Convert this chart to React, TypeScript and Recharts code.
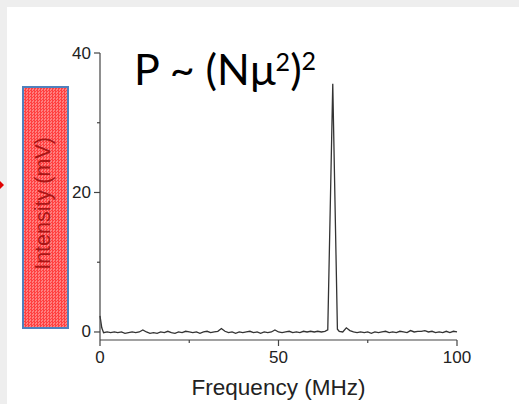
import { LineChart, Line, XAxis, YAxis } from 'recharts';

const freq = [
  0, 0.5, 1, 2, 3, 4, 5, 6, 7, 8, 9, 10, 11, 12, 13, 14, 15, 16, 17, 18, 19, 20,
  21, 22, 23, 24, 25, 26, 27, 28, 29, 30, 31, 32, 33, 34, 35, 36, 37, 38, 39, 40,
  41, 42, 43, 44, 45, 46, 47, 48, 49, 50, 51, 52, 53, 54, 55, 56, 57, 58, 59, 60,
  61, 62, 63, 63.8, 65.2, 66.5, 67, 68, 69, 70, 71, 72, 73, 74, 75, 76, 77, 78, 79, 80,
  81, 82, 83, 84, 85, 86, 87, 88, 89, 90, 91, 92, 93, 94, 95, 96, 97, 98, 99, 100,
];

const intensity = [
  2.3, 0.6, -0.1, 0.0, -0.1, 0.0, -0.1, 0.0, -0.2, -0.1, 0.0, -0.1,
  0.0, 0.3, 0.0, -0.2, -0.1, -0.2, 0.0, -0.1, 0.1, -0.1,
  -0.2, 0.0, -0.1, 0.1, 0.0, -0.1, 0.0, -0.2, 0.0, 0.1,
  -0.1, 0.0, 0.1, 0.5, 0.1, -0.1, 0.0, -0.2, 0.0, -0.1,
  0.0, 0.1, -0.1, 0.0, -0.2, 0.0, -0.1, 0.0, 0.3, 0.0,
  -0.1, 0.0, 0.1, -0.1, 0.0, -0.1, 0.1, 0.0, 0.1, 0.0,
  0.1, 0.0, 0.1, 0.3, 35.6, 0.4, 0.1, 0.0, 0.6, 0.2,
  0.0, -0.1, 0.0, -0.1, 0.0, -0.2, 0.0, -0.1, 0.0, 0.1,
  -0.1, 0.0, -0.1, 0.1, 0.0, -0.1, 0.2, 0.0, 0.1, 0.1,
  0.2, 0.0, 0.1, -0.1, 0.0, -0.1, 0.1, -0.1, 0.1, 0.0,
];

const xTicks = [0, 25, 50, 75, 100];
const xLabels = [0, 50, 100];
const yTicks = [0, 10, 20, 30, 40];
const yLabels = [0, 20, 40];

const data = freq.map((f, i) => ({ f, v: intensity[i] }));

const axisColor = '#444';
const tickFont = '"Liberation Sans", Arial, sans-serif';

function XTick({ x, y, payload }: any) {
  const major = xLabels.includes(payload.value);
  return (
    <g>
      <line x1={x} x2={x} y1={y} y2={y + (major ? 6 : 3)} stroke={axisColor} strokeWidth={1.2} />
      {major && (
        <text x={x} y={y + 23} textAnchor="middle" fontSize={17} fontFamily={tickFont} fill="#222">
          {payload.value}
        </text>
      )}
    </g>
  );
}

function YTick({ x, y, payload }: any) {
  const major = yLabels.includes(payload.value);
  return (
    <g>
      <line x1={x} x2={x - (major ? 6 : 3)} y1={y} y2={y} stroke={axisColor} strokeWidth={1.2} />
      {major && (
        <text x={x - 9} y={y} textAnchor="end" dominantBaseline="central" fontSize={17} fontFamily={tickFont} fill="#222">
          {payload.value}
        </text>
      )}
    </g>
  );
}

function YLabel({ viewBox }: any) {
  const cx = viewBox.x + 3;
  const cy = viewBox.y + viewBox.height / 2 + 7;
  return (
    <text
      x={cx}
      y={cy}
      transform={`rotate(-90 ${cx} ${cy})`}
      textAnchor="middle"
      dominantBaseline="central"
      fontSize={21.5}
      fontFamily={tickFont}
      fill="#a00c0c"
      fillOpacity={0.9}
    >
      Intensity (mV)
    </text>
  );
}

export default function App() {
  return (
    <div style={{ position: 'fixed', left: 0, top: 0, width: 519, height: 404, background: '#eeeeee', overflow: 'hidden' }}>
      {/* white slide panel */}
      <div style={{ position: 'absolute', left: 7, top: 7, right: 0, bottom: 0, background: '#fff' }} />

      {/* red hatched box over the y label */}
      <div
        style={{
          position: 'absolute',
          left: 22,
          top: 86,
          width: 47,
          height: 243,
          boxSizing: 'border-box',
          border: '2px solid #4f81bd',
          backgroundColor: '#ff5555',
          backgroundImage: 'repeating-conic-gradient(#ff4040 0 25%, #ff8080 0 50%)',
          backgroundSize: '3px 3px',
        }}
      />

      {/* arrow tip cut at the left edge */}
      <svg style={{ position: 'absolute', left: 0, top: 178 }} width={8} height={14}>
        <polygon points="0,3 4,7 0,11" fill="#e00000" />
      </svg>

      <div style={{ position: 'absolute', left: 0, top: 0 }}>
        <LineChart width={519} height={404} data={data} margin={{ top: 53, right: 62, bottom: 0, left: 40 }}>
          <XAxis
            type="number"
            dataKey="f"
            domain={[0, 100]}
            ticks={xTicks}
            interval={0}
            height={64}
            tickSize={0}
            tickMargin={0}
            tickLine={false}
            axisLine={{ stroke: axisColor, strokeWidth: 1.2 }}
            tick={<XTick />}
            label={{
              value: 'Frequency (MHz)',
              position: 'insideBottom',
              offset: 9,
              fontSize: 22.5,
              fontFamily: tickFont,
              fill: '#222',
            }}
          />
          <YAxis
            type="number"
            domain={[-1.15, 40]}
            ticks={yTicks}
            interval={0}
            width={60}
            allowDataOverflow
            tickSize={0}
            tickMargin={0}
            tickLine={false}
            axisLine={{ stroke: axisColor, strokeWidth: 1.2 }}
            tick={<YTick />}
            label={<YLabel />}
          />
          <Line
            type="linear"
            dataKey="v"
            stroke="#333"
            strokeWidth={1.3}
            dot={false}
            isAnimationActive={false}
          />
        </LineChart>
      </div>

      {/* formula */}
      <svg style={{ position: 'absolute', left: 0, top: 0 }} width={519} height={120}>
        <text x={134} y={85} fontSize={43} fontFamily="Lato, 'Open Sans', sans-serif" fill="#000">
          P ~ (Nμ
          <tspan dy={-14} fontSize={25}>2</tspan>
          <tspan dy={14}>)</tspan>
          <tspan dy={-15} fontSize={25}>2</tspan>
        </text>
      </svg>
    </div>
  );
}
